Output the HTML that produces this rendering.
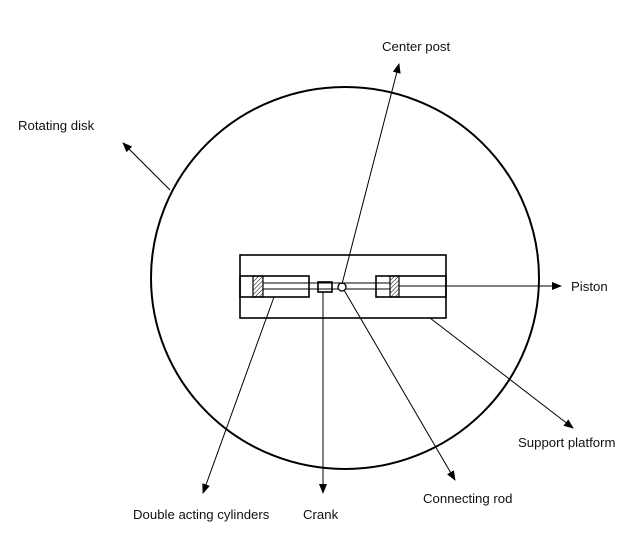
<!DOCTYPE html>
<html><head><meta charset="utf-8"><style>
html,body{margin:0;padding:0;background:#fff}
svg{display:block}
text{font-family:"Liberation Sans",sans-serif;font-size:13.2px;fill:#111}
</style></head><body>
<svg width="638" height="534" viewBox="0 0 638 534" xmlns="http://www.w3.org/2000/svg">
<defs>
<marker id="a" markerWidth="10" markerHeight="8" refX="9" refY="4" orient="auto" markerUnits="userSpaceOnUse">
<path d="M0,0 L10,4 L0,8 z" fill="#000"/>
</marker>
<pattern id="h" width="3" height="3" patternUnits="userSpaceOnUse" patternTransform="rotate(45)">
<line x1="0" y1="0" x2="0" y2="3" stroke="#000" stroke-width="1"/>
</pattern>
</defs>
<ellipse cx="345" cy="278" rx="194" ry="191" fill="none" stroke="#000" stroke-width="2"/>
<g fill="none" stroke="#000" stroke-width="1.6">
<rect x="240" y="255" width="206" height="63"/>
<rect x="240" y="276" width="69" height="21"/>
<rect x="376" y="276" width="70" height="21"/>
<rect x="318" y="282" width="14" height="10"/>
</g>
<rect x="253" y="276" width="10" height="21" fill="url(#h)" stroke="#000" stroke-width="1.2"/>
<rect x="390" y="276" width="9" height="21" fill="url(#h)" stroke="#000" stroke-width="1.2"/>
<g stroke="#000" stroke-width="1.1">
<line x1="263" y1="283" x2="390" y2="283"/>
<line x1="263" y1="289" x2="390" y2="289"/>
</g>
<circle cx="342" cy="287" r="4" fill="#fff" stroke="#000" stroke-width="1.3"/>
<g stroke="#000" stroke-width="1" fill="none" marker-end="url(#a)">
<line x1="342" y1="284" x2="399" y2="64"/>
<line x1="170" y1="190" x2="123" y2="143"/>
<line x1="399" y1="286" x2="561" y2="286"/>
<line x1="430" y1="318" x2="573" y2="428"/>
<line x1="344" y1="290" x2="455" y2="480"/>
<line x1="323" y1="292" x2="323" y2="493"/>
<line x1="274" y1="297" x2="203" y2="493"/>
</g>
<text x="382" y="51">Center post</text>
<text x="18" y="130">Rotating disk</text>
<text x="571" y="291">Piston</text>
<text x="518" y="447">Support platform</text>
<text x="423" y="503">Connecting rod</text>
<text x="303" y="519">Crank</text>
<text x="133" y="519">Double acting cylinders</text>
</svg>
</body></html>
